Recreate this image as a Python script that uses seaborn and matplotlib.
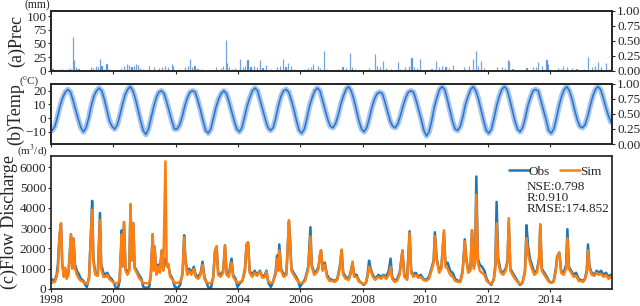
import numpy as np
import pandas as pd
import matplotlib
matplotlib.use("Agg")
import matplotlib.pyplot as plt
import seaborn as sns

# Data (decimal years)

# (a) precipitation events, mm
prec_t = [1998.05, 1998.15, 1998.25, 1998.35, 1998.45, 1998.55, 1998.62, 1998.70, 1998.73, 1998.80, 1998.88,
          1999.05, 1999.28, 1999.35, 1999.45, 1999.52, 1999.57, 1999.62, 1999.70, 1999.78, 1999.85,
          2000.05, 2000.25, 2000.35, 2000.43, 2000.50, 2000.58, 2000.65, 2000.72, 2000.78, 2000.85, 2000.95,
          2001.15, 2001.30, 2001.45, 2001.55, 2001.65, 2001.75, 2001.87, 2001.92,
          2002.10, 2002.30, 2002.38, 2002.45, 2002.52, 2002.60, 2002.70, 2002.85,
          2003.10, 2003.30, 2003.45, 2003.52, 2003.60, 2003.64, 2003.70, 2003.80, 2003.90,
          2004.06, 2004.15, 2004.22, 2004.30, 2004.40, 2004.50, 2004.60, 2004.70, 2004.78, 2004.90,
          2005.05, 2005.25, 2005.35, 2005.45, 2005.52, 2005.60, 2005.70, 2005.80,
          2006.10, 2006.25, 2006.33, 2006.40, 2006.55, 2006.62, 2006.75, 2006.85,
          2007.20, 2007.35, 2007.45, 2007.58, 2007.65, 2007.75,
          2008.20, 2008.38, 2008.45, 2008.55, 2008.65, 2008.75, 2008.90,
          2009.12, 2009.20, 2009.35, 2009.48, 2009.56, 2009.65, 2009.75, 2009.83,
          2010.20, 2010.36, 2010.45, 2010.55, 2010.65, 2010.75, 2010.90,
          2011.25, 2011.40, 2011.54, 2011.64, 2011.70, 2011.80, 2011.88,
          2012.30, 2012.45, 2012.55, 2012.65, 2012.70, 2012.80,
          2013.25, 2013.45, 2013.55, 2013.62, 2013.75, 2013.89, 2013.95,
          2014.25, 2014.35, 2014.42, 2014.55, 2014.70, 2014.85,
          2015.10, 2015.22, 2015.35, 2015.45, 2015.53, 2015.65, 2015.80, 2015.90]
prec_mm = [3, 2, 4, 3, 2, 3, 5, 62, 20, 6, 4,
           2, 7, 5, 8, 6, 22, 9, 4, 12, 3,
           2, 5, 8, 13, 10, 7, 9, 13, 11, 5, 3,
           8, 6, 5, 7, 9, 6, 12, 9,
           3, 7, 9, 22, 6, 8, 4, 3,
           2, 6, 5, 8, 57, 15, 6, 4, 5,
           21, 6, 8, 20, 7, 9, 6, 19, 5, 10,
           3, 6, 9, 22, 7, 15, 8, 4,
           3, 5, 6, 12, 8, 5, 36, 4,
           3, 6, 5, 33, 7, 4,
           5, 30, 9, 6, 17, 5, 4,
           16, 3, 6, 8, 23, 7, 5, 22,
           4, 17, 6, 9, 7, 5, 10,
           6, 8, 22, 37, 9, 18, 5,
           6, 7, 5, 20, 17, 4,
           5, 7, 6, 16, 8, 20, 12,
           5, 4, 8, 6, 5, 4,
           3, 25, 6, 8, 16, 7, 15, 4]

# (b) monthly mean temperature, degC, Jan..Dec for 1998..2015
years = list(range(1998, 2016))
temp_monthly = [
    [-9, -6, 1, 9, 15, 19, 21, 19, 13, 6, -1, -7],
    [-10, -7, 0, 9, 16, 20, 22, 20, 14, 6, -2, -6],
    [-8, -5, 2, 10, 17, 21, 23, 20, 14, 6, -2, -9],
    [-12, -8, 0, 8, 15, 19, 20, 18, 12, 5, -2, -8],
    [-8, -5, 1, 9, 15, 19, 20, 19, 13, 6, -2, -9],
    [-11, -8, 0, 8, 14, 18, 20, 18, 12, 5, -2, -8],
    [-10, -7, 1, 9, 15, 20, 22, 20, 13, 6, -1, -7],
    [-9, -7, 0, 9, 16, 20, 21, 19, 13, 6, -2, -9],
    [-11, -8, 0, 9, 15, 20, 22, 20, 13, 6, -1, -6],
    [-7, -4, 2, 10, 16, 21, 23, 20, 14, 6, -2, -8],
    [-10, -7, 0, 8, 14, 18, 19, 18, 12, 5, -2, -6],
    [-7, -4, 2, 9, 15, 19, 20, 19, 13, 6, -1, -9],
    [-13, -10, -2, 8, 15, 21, 23, 21, 14, 6, -2, -8],
    [-9, -6, 1, 10, 16, 21, 23, 20, 14, 6, -2, -9],
    [-11, -8, 0, 9, 16, 21, 23, 21, 14, 6, -2, -8],
    [-10, -7, 0, 9, 15, 20, 21, 20, 13, 6, -1, -9],
    [-11, -8, 0, 9, 16, 21, 23, 20, 14, 6, -1, -6],
    [-7, -5, 1, 9, 16, 21, 23, 21, 15, 8, 2, -3],
]

# (c) flow discharge, m3/d
flow_t = [1998.00, 1998.06, 1998.12, 1998.18, 1998.22, 1998.27, 1998.32, 1998.36, 1998.41, 1998.45, 1998.50, 1998.56, 1998.64, 1998.68, 1998.72, 1998.77, 1998.83, 1998.90, 1998.96,
          1999.04, 1999.10, 1999.15, 1999.22, 1999.27, 1999.32, 1999.36, 1999.42, 1999.50, 1999.57, 1999.61, 1999.68, 1999.75, 1999.80, 1999.87, 1999.94,
          2000.02, 2000.08, 2000.15, 2000.20, 2000.27, 2000.30, 2000.34, 2000.39, 2000.45, 2000.51, 2000.55, 2000.59, 2000.64, 2000.68, 2000.75, 2000.82, 2000.90, 2000.96,
          2001.05, 2001.15, 2001.20, 2001.26, 2001.29, 2001.32, 2001.38, 2001.44, 2001.49, 2001.55, 2001.60, 2001.67, 2001.71, 2001.76, 2001.82, 2001.90, 2001.97,
          2002.07, 2002.14, 2002.22, 2002.27, 2002.31, 2002.37, 2002.43, 2002.50, 2002.58, 2002.64, 2002.72, 2002.80, 2002.86, 2002.92, 2002.97,
          2003.05, 2003.13, 2003.20, 2003.26, 2003.31, 2003.36, 2003.44, 2003.52, 2003.58, 2003.63, 2003.70, 2003.79, 2003.84, 2003.92, 2003.98,
          2004.06, 2004.14, 2004.22, 2004.27, 2004.32, 2004.37, 2004.45, 2004.53, 2004.60, 2004.70, 2004.78, 2004.86, 2004.91, 2004.97,
          2005.05, 2005.12, 2005.20, 2005.25, 2005.29, 2005.32, 2005.38, 2005.46, 2005.55, 2005.63, 2005.66, 2005.71, 2005.78, 2005.86, 2005.93, 2005.98,
          2006.07, 2006.15, 2006.25, 2006.32, 2006.36, 2006.44, 2006.52, 2006.58, 2006.62, 2006.66, 2006.71, 2006.78, 2006.85, 2006.93,
          2007.02, 2007.10, 2007.18, 2007.26, 2007.32, 2007.37, 2007.45, 2007.55, 2007.62, 2007.67, 2007.72, 2007.80, 2007.88, 2007.96,
          2008.03, 2008.10, 2008.15, 2008.20, 2008.25, 2008.32, 2008.40, 2008.50, 2008.58, 2008.66, 2008.75, 2008.83, 2008.89, 2008.94,
          2009.02, 2009.10, 2009.18, 2009.27, 2009.33, 2009.42, 2009.50, 2009.55, 2009.62, 2009.70, 2009.78, 2009.86, 2009.94,
          2010.03, 2010.12, 2010.20, 2010.27, 2010.31, 2010.37, 2010.45, 2010.52, 2010.60, 2010.65, 2010.72, 2010.80, 2010.88, 2010.96,
          2011.05, 2011.13, 2011.20, 2011.27, 2011.32, 2011.38, 2011.45, 2011.50, 2011.56, 2011.60, 2011.64, 2011.69, 2011.75, 2011.82, 2011.90, 2011.97,
          2012.05, 2012.12, 2012.20, 2012.25, 2012.29, 2012.34, 2012.42, 2012.50, 2012.58, 2012.64, 2012.68, 2012.73, 2012.80, 2012.88, 2012.96,
          2013.04, 2013.12, 2013.20, 2013.25, 2013.30, 2013.36, 2013.42, 2013.50, 2013.58, 2013.65, 2013.69, 2013.74, 2013.82, 2013.90, 2013.97,
          2014.05, 2014.12, 2014.19, 2014.23, 2014.30, 2014.36, 2014.44, 2014.52, 2014.56, 2014.61, 2014.68, 2014.76, 2014.84, 2014.92, 2014.98,
          2015.06, 2015.12, 2015.18, 2015.22, 2015.27, 2015.34, 2015.42, 2015.50, 2015.57, 2015.64, 2015.72, 2015.80, 2015.88, 2015.95, 2015.99]
flow_obs = [500, 450, 400, 700, 1200, 2600, 3200, 1200, 700, 1000, 600, 800, 2700, 1100, 2500, 1200, 900, 700, 500,
            400, 200, 100, 600, 2400, 4350, 1500, 800, 700, 3750, 1200, 800, 700, 800, 600, 500,
            300, 50, 50, 400, 2900, 1200, 3300, 1000, 800, 1000, 4100, 1500, 3250, 1100, 900, 700, 500, 100,
            50, 100, 700, 2700, 1000, 2100, 800, 1200, 900, 1900, 1000, 1500, 1200, 1200, 700, 500, 100,
            50, 200, 800, 2650, 1500, 800, 1000, 800, 1100, 700, 600, 800, 1350, 600, 400,
            50, 50, 600, 1900, 2100, 800, 700, 900, 2150, 800, 700, 1500, 700, 500, 100,
            300, 400, 1000, 2200, 2300, 900, 700, 900, 700, 900, 600, 700, 900, 300,
            100, 350, 800, 1650, 1000, 2200, 1000, 700, 800, 3300, 2600, 1000, 800, 600, 400, 100,
            300, 500, 1100, 3050, 1200, 800, 900, 1100, 1600, 1900, 1000, 1300, 700, 500,
            450, 400, 500, 1100, 1900, 800, 600, 500, 900, 1300, 700, 700, 400, 300,
            200, 300, 700, 1400, 1000, 700, 500, 700, 600, 700, 600, 900, 1500, 600,
            400, 500, 800, 1900, 700, 500, 2850, 900, 700, 800, 600, 700, 500,
            450, 600, 1000, 1400, 2800, 1500, 900, 1100, 2800, 1200, 1300, 900, 800, 500,
            400, 400, 900, 2450, 1500, 900, 1000, 2900, 1100, 1500, 5550, 1500, 1200, 1100, 900, 500,
            300, 200, 500, 1200, 4300, 1500, 900, 800, 1000, 1400, 3300, 1000, 800, 600, 400,
            200, 300, 900, 3150, 2100, 1500, 1200, 800, 900, 1500, 3000, 1000, 800, 600, 400,
            300, 400, 1000, 1600, 1800, 900, 800, 1200, 2950, 1100, 900, 700, 800, 500, 450,
            400, 500, 900, 2200, 1100, 800, 700, 900, 800, 900, 700, 800, 600, 700, 650]
flow_sim = [300, 320, 350, 600, 900, 2600, 3250, 1300, 600, 1050, 500, 700, 2700, 1000, 2500, 1000, 700, 500, 400,
            350, 300, 250, 500, 2350, 3900, 1300, 700, 650, 3400, 1000, 600, 600, 700, 500, 400,
            300, 280, 300, 450, 2700, 1100, 3300, 900, 700, 900, 4200, 1400, 3250, 1000, 800, 550, 400, 300,
            280, 300, 600, 2700, 900, 2100, 700, 1100, 800, 1900, 900, 6300, 1100, 1250, 600, 450, 300,
            300, 350, 700, 2550, 1400, 700, 900, 700, 1000, 600, 500, 700, 1200, 500, 350,
            280, 300, 500, 1850, 2100, 700, 600, 800, 2150, 700, 600, 1300, 600, 400, 300,
            350, 400, 900, 2200, 2300, 800, 600, 800, 650, 850, 550, 600, 850, 350,
            300, 350, 700, 1500, 900, 1900, 900, 600, 700, 3400, 2600, 900, 700, 500, 350, 300,
            300, 400, 1000, 2600, 1100, 700, 800, 1000, 1700, 1900, 900, 1200, 600, 400,
            400, 350, 450, 1000, 1950, 700, 500, 450, 800, 1350, 600, 600, 350, 300,
            250, 300, 600, 1100, 900, 600, 450, 600, 500, 650, 500, 700, 1100, 500,
            350, 400, 700, 1900, 600, 450, 2750, 800, 600, 700, 550, 600, 450,
            400, 500, 900, 1300, 2600, 1400, 800, 1000, 2900, 1100, 1000, 700, 600, 400,
            350, 350, 800, 2350, 1400, 800, 900, 2900, 1000, 1300, 4650, 1300, 900, 800, 700, 400,
            300, 250, 450, 1000, 3250, 1300, 800, 700, 900, 1300, 3500, 900, 700, 500, 350,
            250, 300, 800, 2500, 1700, 1300, 1000, 700, 800, 1400, 3200, 900, 700, 500, 350,
            300, 350, 900, 1500, 1800, 800, 700, 1000, 2500, 1000, 800, 600, 650, 400, 400,
            350, 450, 800, 1900, 1000, 700, 650, 800, 700, 750, 600, 700, 500, 600, 550]

stats_text = "NSE:0.798\nR:0.910\nRMSE:174.852"

# Long tables for seaborn
temp_df = pd.DataFrame({
    "t": [y + (m + 0.5) / 12 for y in years for m in range(12)],
    "temp": [v for row in temp_monthly for v in row],
})
flow_df = pd.DataFrame({"t": flow_t, "Obs": flow_obs, "Sim": flow_sim})

sns.set_theme(style="ticks")
plt.rcParams["font.family"] = ["Liberation Serif", "DejaVu Serif"]
plt.rcParams["mathtext.fontset"] = "stix"
plt.rcParams["xtick.labelsize"] = 9.5
plt.rcParams["ytick.labelsize"] = 9.5

fig = plt.figure(figsize=(6.4, 3.06), dpi=100)
ax1 = fig.add_axes([0.0797, 0.769, 0.877, 0.196])
ax2 = fig.add_axes([0.0797, 0.529, 0.877, 0.198])
ax3 = fig.add_axes([0.0797, 0.0556, 0.877, 0.435])

blue = "#2a72d0"

# (a) precipitation
ax1.bar(prec_t, prec_mm, width=0.005, color=blue, edgecolor=blue, linewidth=0.9, alpha=0.65)
ax1.set_ylim(0, 110)
ax1.set_yticks([0, 25, 50, 75, 100])
ax1.set_ylabel("(a)Prec", fontsize=13, labelpad=1)

# (b) temperature: a pale wide band plus a darker core line
sns.lineplot(data=temp_df, x="t", y="temp", ax=ax2, color=blue, lw=4.0, alpha=0.4, estimator=None)
sns.lineplot(data=temp_df, x="t", y="temp", ax=ax2, color=blue, lw=1.1, estimator=None)
ax2.set_ylim(-19, 25.3)
ax2.set_yticks([-10, 0, 10, 20])
ax2.set_ylabel("(b)Temp", fontsize=13, labelpad=1)

# (c) flow discharge
sns.lineplot(data=flow_df, x="t", y="Obs", ax=ax3, color="#1f77b4", lw=1.8, label="Obs", estimator=None)
sns.lineplot(data=flow_df, x="t", y="Sim", ax=ax3, color="#ff7f0e", lw=1.8, label="Sim", estimator=None)
ax3.set_ylim(0, 6570)
ax3.set_yticks(range(0, 7000, 1000))
ax3.set_ylabel("(c)Flow Discharge", fontsize=13, labelpad=1)
ax3.legend(loc="upper right", bbox_to_anchor=(0.995, 0.985), ncol=2, frameon=False,
           fontsize=9.5, handlelength=1.5, handletextpad=0.0, columnspacing=0.8, borderaxespad=0.2)
ax3.text(0.847, 0.81, stats_text, transform=ax3.transAxes, ha="left", va="top",
         fontsize=9.5, linespacing=0.9)

for ax in (ax1, ax2, ax3):
    ax.set_xlim(1998, 2016)
    ax.set_xticks(range(1998, 2016, 2))
    ax.set_xlabel("")
    ax.tick_params(length=2.2, width=0.8, pad=1.2)
for ax in (ax1, ax2):
    ax.tick_params(labelbottom=False)
    right = ax.twinx()
    right.set_ylim(0, 1)
    right.set_yticks([0, 0.25, 0.5, 0.75, 1.0])
    right.set_yticklabels(["0.00", "0.25", "0.50", "0.75", "1.00"])
    right.tick_params(length=2.2, width=0.8, pad=1.2)
ax3.set_xticklabels([str(y) for y in range(1998, 2016, 2)])
ax3.tick_params(axis="x", pad=1.6, labelsize=9)

# unit labels above each left axis
fig.text(50 / 640, 1 - 5 / 306, "(mm)", ha="right", va="center", fontsize=8.5)
fig.text(39 / 640, 1 - 82 / 306, "(°C)", ha="right", va="center", fontsize=8)
fig.text(48 / 640, 1 - 151 / 306, r"(m$^3$/d)", ha="right", va="center", fontsize=8)

fig.savefig("out.png", dpi=100)
